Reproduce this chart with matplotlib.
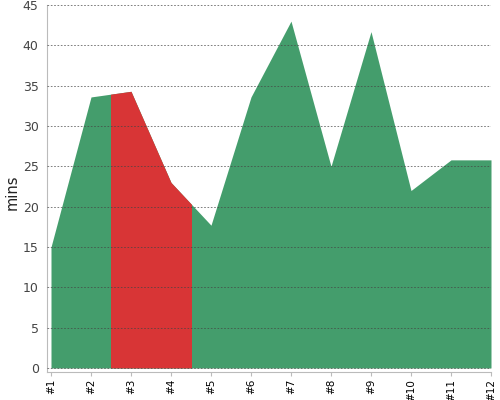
import matplotlib
matplotlib.use('Agg')
import matplotlib.pyplot as plt
from matplotlib.patches import Rectangle

# data
labels = ['#1', '#2', '#3', '#4', '#5', '#6', '#7', '#8', '#9', '#10', '#11', '#12']
minutes = [15.0, 33.6, 34.3, 23.0, 17.7, 33.6, 43.0, 25.0, 41.7, 22.0, 25.8, 25.8]
highlight_from = 2.5   # x range (1-based positions) shown in red
highlight_to = 4.5

GREEN = '#449d6c'
RED = '#d83536'

x = list(range(1, len(labels) + 1))

fig = plt.figure(figsize=(5, 4), dpi=100)
ax = fig.add_axes([0.094, 0.07, 0.888, 0.9175])

ax.fill_between(x, 0, minutes, color=GREEN, linewidth=0, zorder=1)
red = ax.fill_between(x, 0, minutes, color=RED, linewidth=0, zorder=2)
clip = Rectangle((highlight_from, 0), highlight_to - highlight_from, 100,
                 transform=ax.transData)
red.set_clip_path(clip)

ax.set_xlim(0.9, 12)
ax.set_ylim(-0.5, 45)
ax.set_yticks(range(0, 46, 5))
ax.set_xticks(x)
ax.set_xticklabels(labels, rotation=90, fontsize=7.5)
ax.tick_params(axis='y', length=0, labelsize=9, labelcolor='#444444', pad=6)
ax.tick_params(axis='x', length=3, color='#bbbbbb', pad=2)

ax.yaxis.grid(True, linestyle=(0, (2, 2)), color='#444444', linewidth=0.6, alpha=0.8)
ax.set_axisbelow(False)
for gl in ax.get_ygridlines():
    gl.set_zorder(3)

ax.set_ylabel('mins', fontsize=10.5, fontweight='medium', color='#222222')
ax.yaxis.set_label_coords(-0.061, 0.49)

for s in ['top', 'right']:
    ax.spines[s].set_visible(False)
for s in ['left', 'bottom']:
    ax.spines[s].set_color('#bbbbbb')

plt.savefig('out.png', dpi=100, facecolor='white')
